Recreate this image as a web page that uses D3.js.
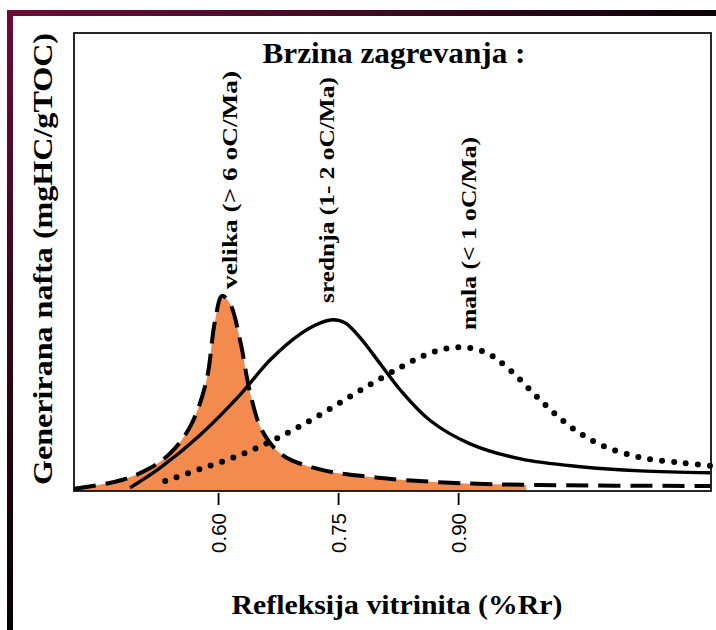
<!DOCTYPE html>
<html>
<head>
<meta charset="utf-8">
<script src="https://cdn.jsdelivr.net/npm/d3@7"></script>
<style>
  body { margin: 0; background: #fff; }
  svg { display: block; }
</style>
</head>
<body>
<div id="chart"></div>
<script>
// heating-rate curves: vitrinite reflectance (%Rr) vs generated oil
var xTicks = [0.60, 0.75, 0.90];

// velika (> 6 oC/Ma) - dashed, filled orange
var velikaX = [0.42, 0.48, 0.515, 0.54, 0.565, 0.585, 0.596, 0.605, 0.615, 0.628, 0.64, 0.655, 0.68, 0.73, 0.80, 0.89, 1.0, 1.215];
var velikaY = [0.5, 2.4, 5.0, 8.2, 14.0, 23.7, 36.9, 42.6, 40.9, 32.5, 21.5, 13.2, 7.9, 4.6, 2.9, 1.8, 1.3, 1.1];

// srednja (1- 2 oC/Ma) - solid
var srednjaX = [0.49, 0.528, 0.578, 0.628, 0.665, 0.703, 0.728, 0.744, 0.759, 0.778, 0.803, 0.828, 0.865, 0.915, 0.978, 1.053, 1.128, 1.215];
var srednjaY = [0.7, 5.1, 12.3, 21.1, 28.6, 34.3, 36.7, 37.4, 36.7, 33.4, 27.7, 22.0, 15.4, 10.3, 7.0, 5.3, 4.4, 4.0];

// mala (< 1 oC/Ma) - dotted
var malaX = [0.534, 0.578, 0.628, 0.678, 0.728, 0.778, 0.828, 0.865, 0.90, 0.934, 0.965, 1.003, 1.04, 1.078, 1.128, 1.178, 1.215];
var malaY = [2.2, 4.8, 7.9, 11.9, 16.7, 22.0, 27.0, 30.1, 31.4, 30.3, 26.4, 19.8, 14.1, 10.1, 7.3, 6.2, 5.5];

var fillEnd = 0.985;   // orange area stops here

var curveLabels = ["velika (> 6 oC/Ma)", "srednja (1- 2 oC/Ma)", "mala (< 1 oC/Ma)"];

var width = 716, height = 630;
var box = { left: 74, right: 711, top: 33, bottom: 491 };

var svg = d3.select("#chart").append("svg")
    .attr("width", width)
    .attr("height", height);

// gradients for the maroon frame
var defs = svg.append("defs");
var gTop = defs.append("linearGradient").attr("id", "gTop")
    .attr("x1", "0%").attr("x2", "100%").attr("y1", "0%").attr("y2", "0%");
gTop.append("stop").attr("offset", "0%").attr("stop-color", "#6b0d36");
gTop.append("stop").attr("offset", "55%").attr("stop-color", "#3a0a1f");
gTop.append("stop").attr("offset", "100%").attr("stop-color", "#0a0205");
var gLeft = defs.append("linearGradient").attr("id", "gLeft")
    .attr("x1", "0%").attr("x2", "0%").attr("y1", "0%").attr("y2", "100%");
gLeft.append("stop").attr("offset", "0%").attr("stop-color", "#6b0d36");
gLeft.append("stop").attr("offset", "60%").attr("stop-color", "#2a0616");
gLeft.append("stop").attr("offset", "100%").attr("stop-color", "#050103");

svg.append("rect").attr("x", 7).attr("y", 10).attr("width", 709).attr("height", 6).attr("fill", "url(#gTop)");
svg.append("rect").attr("x", 7).attr("y", 10).attr("width", 6).attr("height", 620).attr("fill", "url(#gLeft)");

var x = d3.scaleLinear().domain([0.42, 1.216]).range([box.left, box.right]);
var y = d3.scaleLinear().domain([0, 100]).range([box.bottom, box.top]);

function pts(xs, ys) {
  return xs.map(function(d, i) { return [d, ys[i]]; });
}
var velika = pts(velikaX, velikaY);
var srednja = pts(srednjaX, srednjaY);
var mala = pts(malaX, malaY);

var line = d3.line()
    .x(function(d) { return x(d[0]); })
    .y(function(d) { return y(d[1]); })
    .curve(d3.curveCatmullRom.alpha(0.5));

var area = d3.area()
    .x(function(d) { return x(d[0]); })
    .y0(y(0))
    .y1(function(d) { return y(d[1]); })
    .curve(d3.curveCatmullRom.alpha(0.5));

defs.append("clipPath").attr("id", "fillClip")
  .append("rect")
    .attr("x", x(0.42)).attr("y", y(100))
    .attr("width", x(fillEnd) - x(0.42))
    .attr("height", y(0) - y(100) + 2);

svg.append("path")
    .datum(velika)
    .attr("d", area)
    .attr("fill", "#f38b4f")
    .attr("clip-path", "url(#fillClip)");

// plot frame
svg.append("rect")
    .attr("x", box.left).attr("y", box.top)
    .attr("width", box.right - box.left)
    .attr("height", box.bottom - box.top)
    .attr("fill", "none")
    .attr("stroke", "#111")
    .attr("stroke-width", 1.8);

// curves
svg.append("path").datum(srednja).attr("d", line)
    .attr("fill", "none").attr("stroke", "#000").attr("stroke-width", 3.4);

svg.append("path").datum(mala).attr("d", line)
    .attr("fill", "none").attr("stroke", "#000").attr("stroke-width", 6)
    .attr("stroke-linecap", "round")
    .attr("stroke-dasharray", "0,12");

svg.append("path").datum(velika).attr("d", line)
    .attr("fill", "none").attr("stroke", "#000").attr("stroke-width", 4)
    .attr("stroke-dasharray", "22,10");

// x axis, ticks only
var xAxis = d3.axisBottom(x)
    .tickValues(xTicks)
    .tickFormat(d3.format(".2f"))
    .tickSize(12);

var ax = svg.append("g")
    .attr("transform", "translate(0," + (box.bottom + 2) + ")")
    .call(xAxis);
ax.select(".domain").remove();
ax.selectAll(".tick line").attr("stroke", "#000").attr("stroke-width", 1.8);
ax.selectAll(".tick text")
    .attr("transform", "rotate(-90)")
    .attr("x", -20)
    .attr("y", 0)
    .attr("dy", "0.36em")
    .style("text-anchor", "end")
    .style("font-family", "'Liberation Sans', Arial, sans-serif")
    .style("font-size", "20.5px")
    .attr("fill", "#000");

var serif = "'Liberation Serif', 'Times New Roman', serif";

svg.append("text")
    .attr("x", 394).attr("y", 63)
    .attr("text-anchor", "middle")
    .style("font-family", serif).style("font-weight", "bold").style("font-size", "30px")
    .attr("textLength", 263).attr("lengthAdjust", "spacingAndGlyphs")
    .text("Brzina zagrevanja :");

svg.append("text")
    .attr("x", 397).attr("y", 614)
    .attr("text-anchor", "middle")
    .style("font-family", serif).style("font-weight", "bold").style("font-size", "27px")
    .attr("textLength", 331).attr("lengthAdjust", "spacingAndGlyphs")
    .text("Refleksija vitrinita (%Rr)");

svg.append("text")
    .attr("transform", "translate(52,259) rotate(-90)")
    .attr("text-anchor", "middle")
    .style("font-family", serif).style("font-weight", "bold").style("font-size", "27px")
    .attr("textLength", 452).attr("lengthAdjust", "spacingAndGlyphs")
    .text("Generirana nafta (mgHC/gTOC)");

// rotated curve labels
var labelBase = [289, 303, 330];
var labelLen = [218, 226, 193];
var labelX = [237, 334, 476];
curveLabels.forEach(function(t, i) {
  svg.append("text")
      .attr("transform", "translate(" + labelX[i] + "," + labelBase[i] + ") rotate(-90)")
      .attr("text-anchor", "start")
      .style("font-family", serif).style("font-weight", "bold").style("font-size", "22px")
      .attr("textLength", labelLen[i]).attr("lengthAdjust", "spacingAndGlyphs")
      .text(t);
});
</script>
</body>
</html>
